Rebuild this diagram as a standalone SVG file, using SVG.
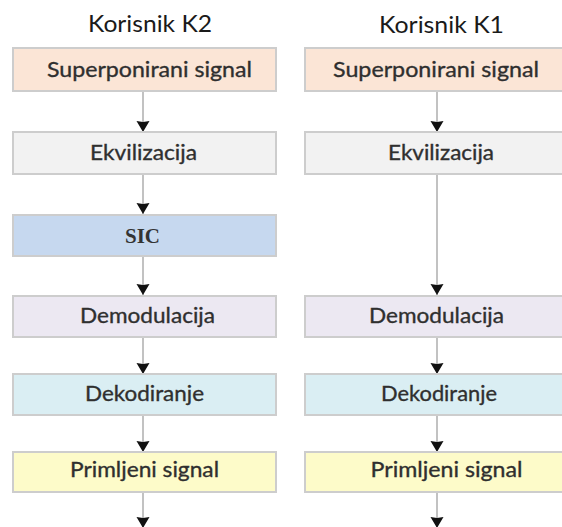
<svg xmlns="http://www.w3.org/2000/svg" width="562" height="527" viewBox="0 0 562 527">
  <defs>
    <marker id="arrow" markerUnits="userSpaceOnUse" markerWidth="14" markerHeight="14" viewBox="-12 -7 14 14" refX="0" refY="0" orient="auto">
      <path d="M-11,-6.5 L-10,0 L-11,6.5 L0,0 Z" fill="#111"/>
    </marker>
    <style>
      .box { stroke: #cdcdcd; stroke-width: 2; }
      .lbl { font-family: Lato, "Open Sans", "Liberation Sans", sans-serif; font-size: 22px; fill: #2f2f2f; text-anchor: middle; stroke: #2f2f2f; stroke-width: 0.35; }
      .sic { font-family: "Liberation Serif", serif; font-size: 21px; fill: #333; text-anchor: middle; font-weight: bold; }
      .title { font-family: Lato, "Open Sans", "Liberation Sans", sans-serif; font-size: 23px; fill: #1a1a1a; text-anchor: middle; }
      .conn { stroke: #c2c2c2; stroke-width: 2; fill: none; marker-end: url(#arrow); }
    </style>
  </defs>
  <rect width="562" height="527" fill="#ffffff"/>

  <!-- column titles -->
  <text class="title" x="150" y="32" textLength="124" lengthAdjust="spacingAndGlyphs">Korisnik K2</text>
  <text class="title" x="441.5" y="33" textLength="125" lengthAdjust="spacingAndGlyphs">Korisnik K1</text>

  <!-- connectors -->
  <g id="connectors">
    <line class="conn" x1="143" y1="92" x2="143" y2="132"/>
    <line class="conn" x1="143" y1="174" x2="143" y2="214"/>
    <line class="conn" x1="143" y1="257" x2="143" y2="295"/>
    <line class="conn" x1="143" y1="338" x2="143" y2="374"/>
    <line class="conn" x1="143" y1="416" x2="143" y2="452"/>
    <line class="conn" x1="143" y1="493" x2="143" y2="528"/>

    <line class="conn" x1="437" y1="92" x2="437" y2="132"/>
    <line class="conn" x1="437" y1="174" x2="437" y2="295"/>
    <line class="conn" x1="437" y1="338" x2="437" y2="374"/>
    <line class="conn" x1="437" y1="416" x2="437" y2="452"/>
    <line class="conn" x1="437" y1="493" x2="437" y2="528"/>
  </g>

  <!-- user K2 chain -->
  <g id="k2-superponirani">
    <rect class="box" x="13" y="48" width="263" height="43" fill="#fbe5d6"/>
    <text class="lbl" x="149.5" y="77" textLength="205" lengthAdjust="spacingAndGlyphs">Superponirani signal</text>
  </g>
  <g id="k2-ekvilizacija">
    <rect class="box" x="13" y="132" width="263" height="42" fill="#f2f2f2"/>
    <text class="lbl" x="143.5" y="160" textLength="107" lengthAdjust="spacingAndGlyphs">Ekvilizacija</text>
  </g>
  <g id="k2-sic">
    <rect class="box" x="13" y="215" width="263" height="41" fill="#c6d8ef"/>
    <text class="sic" x="142.5" y="243">SIC</text>
  </g>
  <g id="k2-demodulacija">
    <rect class="box" x="13" y="296" width="263" height="41" fill="#ece8f2"/>
    <text class="lbl" x="147.5" y="323" textLength="135" lengthAdjust="spacingAndGlyphs">Demodulacija</text>
  </g>
  <g id="k2-dekodiranje">
    <rect class="box" x="13" y="374" width="263" height="41" fill="#daeef3"/>
    <text class="lbl" x="144.5" y="401" textLength="119" lengthAdjust="spacingAndGlyphs">Dekodiranje</text>
  </g>
  <g id="k2-primljeni">
    <rect class="box" x="13" y="452" width="263" height="40" fill="#fdfbc9"/>
    <text class="lbl" x="144.5" y="477" textLength="149" lengthAdjust="spacingAndGlyphs">Primljeni signal</text>
  </g>

  <!-- user K1 chain -->
  <g id="k1-superponirani">
    <rect class="box" x="305" y="48" width="263" height="43" fill="#fbe5d6"/>
    <text class="lbl" x="436" y="77" textLength="206" lengthAdjust="spacingAndGlyphs">Superponirani signal</text>
  </g>
  <g id="k1-ekvilizacija">
    <rect class="box" x="305" y="132" width="263" height="42" fill="#f2f2f2"/>
    <text class="lbl" x="441" y="160" textLength="106" lengthAdjust="spacingAndGlyphs">Ekvilizacija</text>
  </g>
  <g id="k1-demodulacija">
    <rect class="box" x="305" y="296" width="263" height="41" fill="#ece8f2"/>
    <text class="lbl" x="436.5" y="323" textLength="135" lengthAdjust="spacingAndGlyphs">Demodulacija</text>
  </g>
  <g id="k1-dekodiranje">
    <rect class="box" x="305" y="374" width="263" height="41" fill="#daeef3"/>
    <text class="lbl" x="439" y="401" textLength="116" lengthAdjust="spacingAndGlyphs">Dekodiranje</text>
  </g>
  <g id="k1-primljeni">
    <rect class="box" x="305" y="452" width="263" height="40" fill="#fdfbc9"/>
    <text class="lbl" x="446.5" y="477" textLength="152" lengthAdjust="spacingAndGlyphs">Primljeni signal</text>
  </g>
</svg>
